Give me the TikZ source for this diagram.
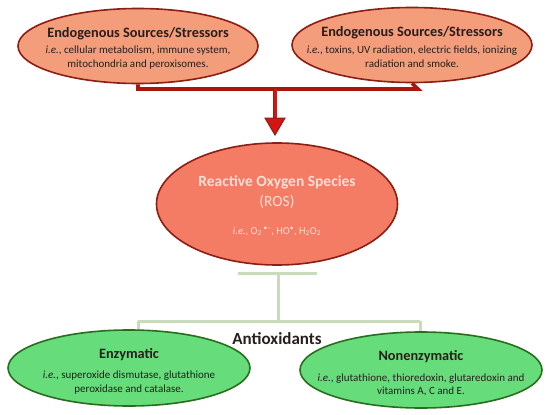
\documentclass[tikz,border=0pt]{standalone}
\usepackage{fontspec}
\setmainfont{Carlito}
\usetikzlibrary{shapes.geometric,arrows.meta}
\definecolor{topfill}{RGB}{243,157,122}
\definecolor{rosfill}{RGB}{244,124,100}
\definecolor{redborder}{RGB}{140,30,20}
\definecolor{redline}{RGB}{170,22,12}
\definecolor{arrowred}{RGB}{215,20,20}
\definecolor{greenfill}{RGB}{102,221,122}
\definecolor{greenborder}{RGB}{40,110,30}
\definecolor{greenline}{RGB}{200,220,188}
\definecolor{txt}{RGB}{40,30,30}
\definecolor{rostxt}{RGB}{255,222,212}
\tikzset{
  redell/.style={ellipse, draw=redborder, line width=1.6pt, fill=topfill, inner sep=0pt,
    minimum width=240pt, minimum height=75pt},
  rosell/.style={ellipse, draw=redborder, line width=1.6pt, fill=rosfill, inner sep=0pt,
    minimum width=241pt, minimum height=122pt},
  grell/.style={ellipse, draw=greenborder, line width=1.6pt, fill=greenfill, inner sep=0pt,
    minimum width=242pt, minimum height=76pt},
  ttl/.style={anchor=base, inner sep=0pt, text=txt, font=\fontsize{14.3}{16}\selectfont\bfseries},
  bod/.style={anchor=base, inner sep=0pt, text=txt, font=\fontsize{11}{13}\selectfont},
  rosttl/.style={anchor=base, inner sep=0pt, text=rostxt, font=\fontsize{15.5}{18}\selectfont\bfseries},
  rosbig/.style={anchor=base, inner sep=0pt, text=rostxt, font=\fontsize{15.5}{18}\selectfont},
  rosbod/.style={anchor=base, inner sep=0pt, text=rostxt, font=\fontsize{10.5}{12}\selectfont},
  redconn/.style={draw=redline, line width=3.6pt},
  grconn/.style={draw=greenline, line width=3pt}
}
\begin{document}
\begin{tikzpicture}[x=1pt,y=-1pt]
\useasboundingbox[fill=white] (0,0) rectangle (550,415);
\coordinate (rl) at (138,89);
\coordinate (rr) at (418,89);
\coordinate (rm) at (275,89);
\coordinate (ah) at (275,120);
\coordinate (gt) at (278,273);
\coordinate (gtl) at (238,273);
\coordinate (gtr) at (317,273);
\coordinate (gm) at (278,321);
\coordinate (gl) at (138,321);
\coordinate (gr) at (420,321);

% top ellipses
\node[redell] (src1) at (138,46) {};
\node[ttl] (src1a) at (138,37.2) {Endogenous Sources/Stressors};
\node[bod] (src1b) at (138,53.5) {\textit{i.e.}, cellular metabolism, immune system,};
\node[bod] (src1c) at (138,67.5) {mitochondria and peroxisomes.};

\node[redell] (src2) at (412,45) {};
\node[ttl] (src2a) at (412,37) {Endogenous Sources/Stressors};
\node[bod] (src2b) at (412,53.5) {\textit{i.e.}, toxins, UV radiation, electric fields, ionizing};
\node[bod] (src2c) at (412,67.5) {radiation and smoke.};

% red connector and arrow
\draw[redconn] (src1.south) -- (rl) -- (rr) -- (src2.south);
\draw[draw=redborder, line width=4.8pt] (rm) -- (ah);
\draw[draw=arrowred, line width=3pt] (rm) -- (ah);
\fill[fill=arrowred, draw=redborder, line width=1pt] (265,118) -- (285,118) -- (275,135) -- cycle;

% ROS
\node[rosell] (ros) at (277,204) {};
\node[rosttl] (rosa) at (277,186.5) {Reactive Oxygen Species};
\node[rosbig] (rosb) at (277,206) {(ROS)};
\node[rosbod] (rosc) at (277,234) {\textit{i.e.}, O\textsubscript{2}\,\textsuperscript{•–}, HO\textsuperscript{•}, H\textsubscript{2}O\textsubscript{2}};

% green connectors
\draw[grconn] (gtl) -- (gtr);
\draw[grconn] (gt) -- (gm);
\draw[grconn] (gl) -- (gr);
\draw[grconn] (gl) -- ++(0,12) coordinate (gle);
\draw[grconn] (gr) -- ++(0,14) coordinate (gre);

% antioxidants
\node[grell] (enz) at (129,368) {};
\node[ttl] (enza) at (129,358.5) {Enzymatic};
\node[bod] (enzb) at (129,378.5) {\textit{i.e.}, superoxide dismutase, glutathione};
\node[bod] (enzc) at (129,392.5) {peroxidase and catalase.};

\node[grell] (nonenz) at (421,370) {};
\node[ttl] (nonenza) at (421,360.5) {Nonenzymatic};
\node[bod] (nonenzb) at (421,381) {\textit{i.e.}, glutathione, thioredoxin, glutaredoxin and};
\node[bod] (nonenzc) at (421,394.5) {vitamins A, C and E.};

\node[anchor=base, inner sep=0pt, text=txt, font=\fontsize{17}{20}\selectfont\bfseries] (anti) at (277,344.5) {Antioxidants};
\end{tikzpicture}
\end{document}
